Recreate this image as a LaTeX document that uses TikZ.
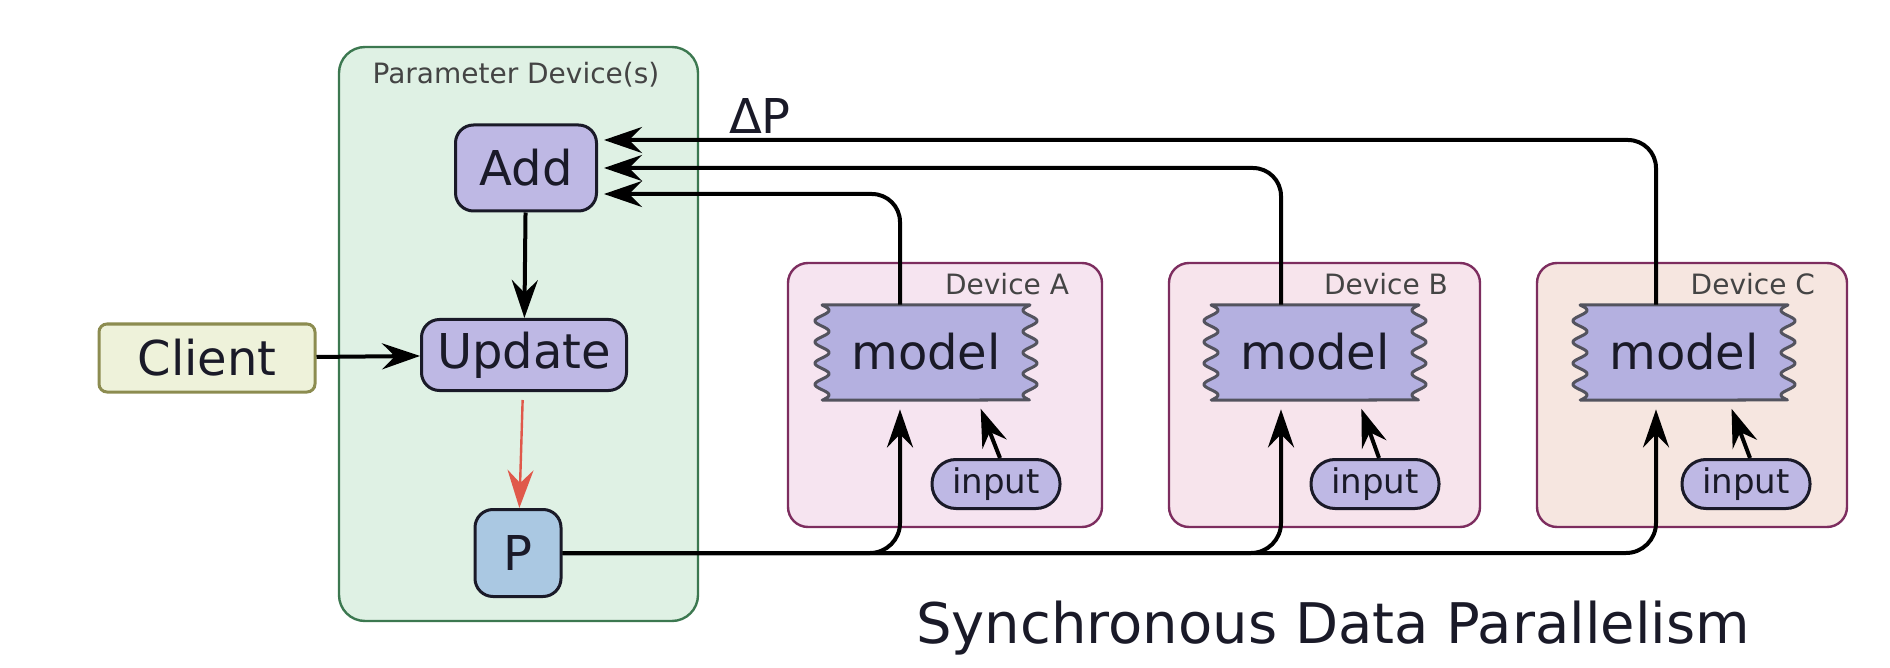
\documentclass[tikz,border=0pt]{standalone}
\usepackage{fontspec}
\setmainfont{DejaVu Sans}
\usetikzlibrary{arrows.meta,calc}

\definecolor{ink}{RGB}{26,26,40}
\definecolor{lav}{RGB}{190,184,228}
\definecolor{modelfill}{RGB}{180,176,224}
\definecolor{pblue}{RGB}{170,200,226}
\definecolor{clientfill}{RGB}{238,242,218}
\definecolor{clientline}{RGB}{140,140,80}
\definecolor{paramfill}{RGB}{223,241,228}
\definecolor{paramline}{RGB}{60,120,80}
\definecolor{devline}{RGB}{125,45,95}
\definecolor{devAfill}{RGB}{246,228,240}
\definecolor{devBfill}{RGB}{247,228,236}
\definecolor{devCfill}{RGB}{246,230,224}
\definecolor{redc}{RGB}{224,88,74}
\definecolor{labgray}{RGB}{68,68,68}

\begin{document}
\begin{tikzpicture}[x=0.5pt,y=-0.5pt]
\tikzset{box/.style = {shape=rectangle,draw=ink,line width=1.5pt,rounded corners=9pt,fill=lav,text=ink,inner sep=0pt,font=\fontsize{24}{28}\selectfont}}
\tikzset{pill/.style = {box,rounded corners=12pt,minimum width=64pt,minimum height=24.5pt,font=\fontsize{17}{20}\selectfont}}
\tikzset{group/.style = {shape=rectangle,line width=1.2pt,rounded corners=13pt}}
\tikzset{device/.style = {group,draw=devline,rounded corners=10pt,minimum height=132pt}}
\tikzset{tag/.style = {text=labgray,font=\fontsize{14}{16}\selectfont}}
\tikzset{modeltxt/.style = {text=ink,inner sep=0pt,minimum width=110.5pt,minimum height=47pt,font=\fontsize{24}{28}\selectfont}}
\tikzset{edge/.style = {-{Stealth[length=19pt,width=13pt,inset=6.5pt]},line width=2pt,draw=black}}
\useasboundingbox (0,0) rectangle (1890,668);

\node[group,draw=paramline,fill=paramfill,minimum width=179.5pt,minimum height=287pt] (pd) at (518.5,334) {};
\node[tag] (pdlab) at (516,75) {Parameter Device(s)};
\node[box,minimum width=70.5pt,minimum height=43pt] (add) at (526,168) {Add};
\node[box,minimum width=102.5pt,minimum height=35.5pt] (upd) at (524,355) {Update};
\node[box,fill=pblue,minimum width=43pt,minimum height=43.5pt] (p) at (518,553) {P};
\node[box,fill=clientfill,draw=clientline,rounded corners=4pt,minimum width=108pt,minimum height=34pt] (client) at (207,358) {Client};
\node[text=ink,font=\fontsize{24}{28}\selectfont] (dp) at (760,116) {ΔP};

\node[device,fill=devAfill,minimum width=157pt] (dA) at (945,395) {};
\node[device,fill=devBfill,minimum width=155.5pt] (dB) at (1324.5,395) {};
\node[device,fill=devCfill,minimum width=155pt] (dC) at (1692,395) {};
\node[tag,anchor=east] (labA) at (1076,284) {Device A};
\node[tag,anchor=east] (labB) at (1455,284) {Device B};
\node[tag,anchor=east] (labC) at (1822,284) {Device C};

\foreach \n/\cx/\ix in {A/926/996,B/1315/1375,C/1684/1746}{
  \path[fill=modelfill,draw=ink!75,line width=1.5pt,line join=round]
    (\cx-104,305) -- (\cx+104,305)
    -- plot[domain=0:95,samples=120,smooth] ({\cx+104-7*sin(\x*17)},{305+\x})
    -- (\cx-104,400)
    -- plot[domain=95:0,samples=120,smooth] ({\cx-104+7*sin(\x*17)},{305+\x}) -- cycle;
  \node[modeltxt] (m\n) at (\cx,352) {model};
  \node[pill] (i\n) at (\ix,484) {input};
}

\draw[edge] (add) -- (upd);
\draw[edge] (client) -- (upd);
\draw[edge,draw=redc,color=redc,line width=1.2pt,shorten <=4pt] (upd) -- (p);

\draw[edge,rounded corners=15pt,shorten >=5pt] (p.east) -| ([xshift=-13pt]mA.south);
\draw[edge,rounded corners=15pt,shorten >=5pt] (p.east) -| ([xshift=-17pt]mB.south);
\draw[edge,rounded corners=15pt,shorten >=5pt] (p.east) -| ([xshift=-14pt]mC.south);

\draw[edge,shorten >=5pt] ([xshift=2pt]iA.north) -- ([xshift=25.5pt]mA.south);
\draw[edge,shorten >=5pt] ([xshift=2pt]iB.north) -- ([xshift=21.5pt]mB.south);
\draw[edge,shorten >=5pt] ([xshift=2pt]iC.north) -- ([xshift=22pt]mC.south);

\draw[edge,rounded corners=14pt,shorten >=3pt] ([xshift=-13pt]mA.north) |- ([yshift=-13pt]add.east);
\draw[edge,rounded corners=14pt,shorten >=3pt] ([xshift=-17pt]mB.north) |- (add.east);
\draw[edge,rounded corners=14pt,shorten >=3pt] ([xshift=-14pt]mC.north) |- ([yshift=14pt]add.east);

\node[text=ink,font=\fontsize{28}{32}\selectfont] (title) at (1333,628) {Synchronous Data Parallelism};
\end{tikzpicture}
\end{document}
